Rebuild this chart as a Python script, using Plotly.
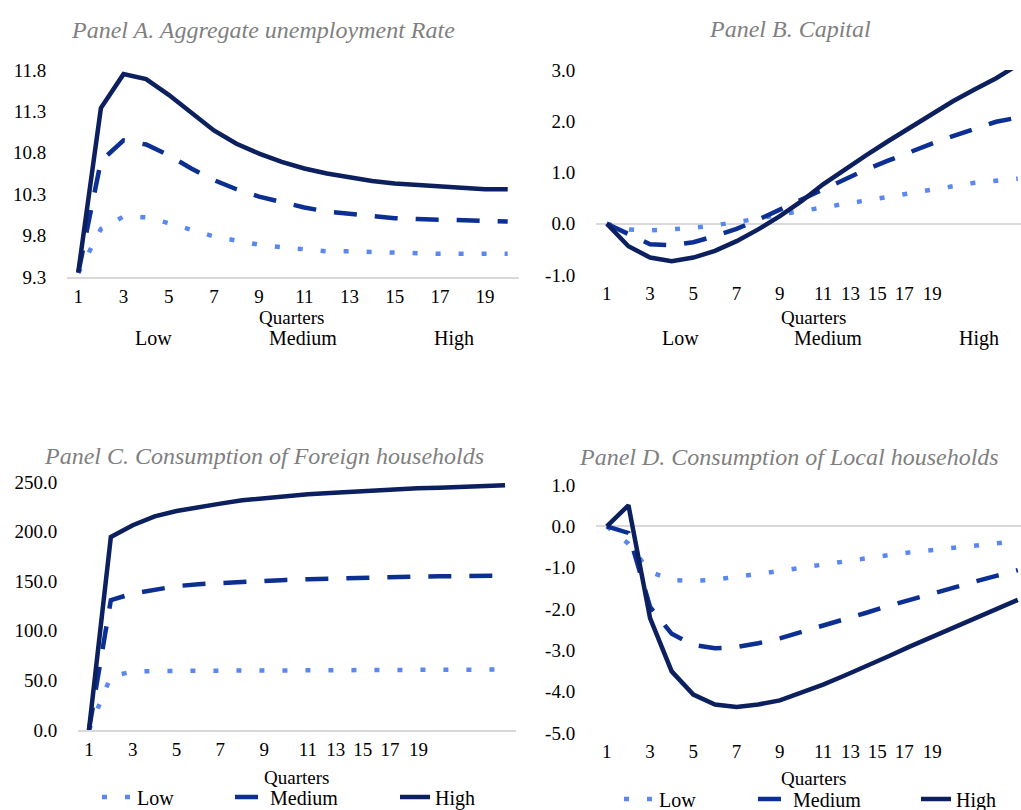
import plotly.graph_objects as go

quarters = list(range(1, 21))
series_names = ["Low", "Medium", "High"]

# Panel A: Aggregate unemployment rate
a_low = [9.35, 9.88, 10.03, 10.02, 9.95, 9.87, 9.79, 9.74, 9.69, 9.66, 9.63, 9.61, 9.61, 9.60, 9.59, 9.59, 9.58, 9.58, 9.58, 9.58]
a_med = [9.35, 10.70, 10.95, 10.90, 10.77, 10.61, 10.47, 10.36, 10.27, 10.20, 10.14, 10.09, 10.06, 10.03, 10.01, 10.00, 9.99, 9.99, 9.98, 9.97]
a_high = [9.36, 11.34, 11.75, 11.69, 11.50, 11.28, 11.07, 10.91, 10.79, 10.69, 10.61, 10.55, 10.50, 10.46, 10.43, 10.41, 10.39, 10.38, 10.36, 10.36]

# Panel B: Capital
b_low = [0.0, -0.11, -0.13, -0.11, -0.08, -0.03, 0.03, 0.10, 0.18, 0.25, 0.31, 0.40, 0.47, 0.54, 0.60, 0.67, 0.73, 0.80, 0.84, 0.88]
b_med = [0.0, -0.21, -0.40, -0.42, -0.36, -0.24, -0.10, 0.08, 0.28, 0.47, 0.67, 0.86, 1.06, 1.23, 1.40, 1.56, 1.71, 1.85, 1.99, 2.07]
b_high = [0.0, -0.44, -0.66, -0.73, -0.66, -0.53, -0.34, -0.11, 0.15, 0.44, 0.77, 1.06, 1.34, 1.61, 1.87, 2.13, 2.39, 2.62, 2.84, 3.10]

# Panel C: Consumption of Foreign households
c_low = [0.0, 54.0, 59.0, 59.5, 59.6, 59.7, 59.8, 59.9, 60.0, 60.0, 60.1, 60.2, 60.3, 60.4, 60.5, 60.5, 60.6, 60.7, 60.8, 61.0]
c_med = [0.0, 130.9, 137.6, 141.6, 145.0, 147.0, 148.3, 149.3, 150.3, 151.3, 152.0, 152.7, 153.4, 154.0, 154.3, 154.6, 154.9, 155.1, 155.3, 155.5]
c_high = [0.0, 194.6, 206.4, 215.4, 220.8, 224.8, 228.2, 231.5, 233.9, 235.9, 237.6, 238.9, 240.3, 241.6, 242.6, 243.6, 244.3, 245.0, 245.6, 246.6]

# Panel D: Consumption of Local households
d_low = [0.0, -0.42, -1.10, -1.30, -1.32, -1.29, -1.22, -1.16, -1.08, -1.00, -0.92, -0.84, -0.76, -0.70, -0.63, -0.58, -0.51, -0.46, -0.42, -0.36]
d_med = [0.0, -0.16, -1.95, -2.60, -2.87, -2.95, -2.92, -2.83, -2.71, -2.56, -2.41, -2.25, -2.09, -1.93, -1.78, -1.62, -1.48, -1.34, -1.20, -1.06]
d_high = [0.0, 0.51, -2.22, -3.51, -4.07, -4.31, -4.37, -4.31, -4.21, -4.03, -3.83, -3.61, -3.39, -3.15, -2.91, -2.68, -2.45, -2.22, -2.00, -1.78]

panel_titles = ["Panel A. Aggregate unemployment Rate", "Panel B. Capital",
                "Panel C. Consumption of Foreign households", "Panel D. Consumption of Local households"]

x_tick_labels = ["1", "3", "5", "7", "9", "11", "13", "15", "17", "19"]
x_ticks_regular = [1, 3, 5, 7, 9, 11, 13, 15, 17, 19]
x_ticks_squeezed = [1, 3, 5, 7, 9, 11, 12.27, 13.5, 14.75, 16.05]

a_yticks = [9.3, 9.8, 10.3, 10.8, 11.3, 11.8]
b_yticks = [-1.0, 0.0, 1.0, 2.0, 3.0]
c_yticks = [0.0, 50.0, 100.0, 150.0, 200.0, 250.0]
d_yticks = [-5.0, -4.0, -3.0, -2.0, -1.0, 0.0, 1.0]

W, H = 1021, 810
FONT = "Liberation Serif"
colors = {"Low": "#5a88f0", "Medium": "#0b2f92", "High": "#0c1f5e"}
dashes = {"Low": "5px,18px", "Medium": "23px,18px", "High": "solid"}
LW = 4.5


def px_x(p):
    return p / W


def px_y(p):
    return (H - p) / H


fig = go.Figure()

panels = [
    ("x", "y", [a_low, a_med, a_high], None),
    ("x2", "y2", [b_low, b_med, b_high], None),
    ("x3", "y3", [c_low, c_med, c_high], ["legend", "legend2", "legend3"]),
    ("x4", "y4", [d_low, d_med, d_high], ["legend4", "legend5", "legend6"]),
]

for xa, ya, data, legs in panels:
    for i, name in enumerate(series_names):
        kw = {}
        if legs:
            kw["legend"] = legs[i]
            kw["showlegend"] = True
        else:
            kw["showlegend"] = False
        fig.add_trace(go.Scatter(
            x=quarters, y=data[i], mode="lines", name=name,
            line=dict(color=colors[name], width=LW, dash=dashes[name]),
            xaxis=xa, yaxis=ya, **kw))

tickfont = dict(family=FONT, size=19, color="#000000")
common_x = dict(showgrid=False, zeroline=False, ticks="outside", ticklen=1,
                tickcolor="rgba(0,0,0,0)", tickfont=tickfont, fixedrange=True)
common_y = dict(showgrid=False, ticks="outside", ticklen=16,
                tickcolor="rgba(0,0,0,0)", tickfont=tickfont, showline=False)


def fmt(v):
    return f"{v:.1f}"


layout = dict(
    width=W, height=H,
    margin=dict(l=0, r=0, t=0, b=0, autoexpand=False),
    paper_bgcolor="white", plot_bgcolor="white",
    font=dict(family=FONT, color="#000000"),
    xaxis=dict(domain=[px_x(67), px_x(519)], range=[0.5, 20.5], tickvals=x_ticks_regular,
               ticktext=x_tick_labels, showline=True, linecolor="#d9d9d9", linewidth=1.5,
               anchor="y", **common_x),
    yaxis=dict(domain=[px_y(277), px_y(70)], range=[9.3, 11.8], tickvals=a_yticks,
               ticktext=[fmt(v) for v in a_yticks], zeroline=False, anchor="x", **common_y),
    xaxis2=dict(domain=[px_x(596), 1.0], range=[0.5, 0.5 + (W - 596) / 21.63],
                tickvals=x_ticks_squeezed, ticktext=x_tick_labels, showline=False,
                anchor="y2", **common_x),
    yaxis2=dict(domain=[px_y(275), px_y(70)], range=[-1.0, 3.0], tickvals=b_yticks,
                ticktext=[fmt(v) for v in b_yticks], zeroline=True, zerolinecolor="#d9d9d9",
                zerolinewidth=1.5, anchor="x2", **common_y),
    xaxis3=dict(domain=[px_x(78), px_x(516)], range=[0.5, 20.5], tickvals=x_ticks_squeezed,
                ticktext=x_tick_labels, showline=True, linecolor="#d9d9d9", linewidth=1.5,
                anchor="y3", **common_x),
    yaxis3=dict(domain=[px_y(730), px_y(482)], range=[0.0, 250.0], tickvals=c_yticks,
                ticktext=[fmt(v) for v in c_yticks], zeroline=False, anchor="x3", **common_y),
    xaxis4=dict(domain=[px_x(596), 1.0], range=[0.5, 0.5 + (W - 596) / 21.63],
                tickvals=x_ticks_squeezed, ticktext=x_tick_labels, showline=False,
                anchor="y4", **common_x),
    yaxis4=dict(domain=[px_y(733), px_y(485)], range=[-5.0, 1.0], tickvals=d_yticks,
                ticktext=[fmt(v) for v in d_yticks], zeroline=True, zerolinecolor="#d9d9d9",
                zerolinewidth=1.5, anchor="x4", **common_y),
)

# separate one-item legends so the entries sit where the original ones do
leg_font = dict(family=FONT, size=20, color="#000000")
legend_text_x = {"legend": 139, "legend2": 272, "legend3": 437,
                 "legend4": 661, "legend5": 795, "legend6": 958}
for key, tx in legend_text_x.items():
    yc = 797 if key in ("legend", "legend2", "legend3") else 799
    layout[key] = dict(x=px_x(tx - 42), y=px_y(yc), xanchor="left", yanchor="middle",
                       bgcolor="rgba(0,0,0,0)", borderwidth=0, font=leg_font,
                       orientation="h", tracegroupgap=0, itemclick=False, itemdoubleclick=False)

fig.update_layout(**layout)

title_font = dict(family=FONT, size=24, color="#7f7f7f", style="italic")
title_pos = [(263, 30), (790, 29), (264, 456), (789, 457)]
for t, (tx, ty) in zip(panel_titles, title_pos):
    fig.add_annotation(text=t, x=px_x(tx), y=px_y(ty), xref="paper", yref="paper",
                       showarrow=False, xanchor="center", yanchor="middle", font=title_font)

lab_font = dict(family=FONT, size=19, color="#000000")
for tx, ty in [(291, 317), (813, 317), (296, 777), (813, 778)]:
    fig.add_annotation(text="Quarters", x=px_x(tx), y=px_y(ty), xref="paper", yref="paper",
                       showarrow=False, xanchor="center", yanchor="middle", font=lab_font)

# text-only legends under panels A and B (as in the original)
for xs in [(153, 303, 454), (680, 828, 979)]:
    for name, tx in zip(series_names, xs):
        fig.add_annotation(text=name, x=px_x(tx), y=px_y(338), xref="paper", yref="paper",
                           showarrow=False, xanchor="center", yanchor="middle", font=leg_font)

fig.write_html("out.html", config={"displayModeBar": False},
               post_script="document.body.style.margin='0';document.body.style.overflow='hidden';")
